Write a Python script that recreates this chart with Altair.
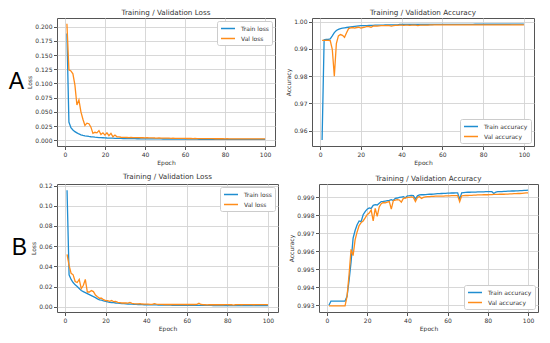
import altair as alt
import pandas as pd

EPOCHS = list(range(1, 101))

A_TRAIN_LOSS = [
    0.188, 0.032, 0.022, 0.018, 0.015, 0.013, 0.011, 0.0095, 0.0085, 0.0078,
    0.0072, 0.0066, 0.0061, 0.0057, 0.0053, 0.0050, 0.0047, 0.0045, 0.0043, 0.0041,
    0.0039, 0.0038, 0.0036, 0.0035, 0.0034, 0.0033, 0.0032, 0.0031, 0.0030, 0.0030,
    0.0029, 0.0028, 0.0028, 0.0027, 0.0027, 0.0026, 0.0026, 0.0025, 0.0025, 0.0024,
    0.0024, 0.0024, 0.0023, 0.0023, 0.0023, 0.0022, 0.0022, 0.0022, 0.0021, 0.0021,
    0.0021, 0.0021, 0.0020, 0.0020, 0.0020, 0.0020, 0.0019, 0.0019, 0.0019, 0.0019,
    0.0019, 0.0018, 0.0018, 0.0018, 0.0018, 0.0018, 0.0017, 0.0017, 0.0017, 0.0017,
    0.0017, 0.0017, 0.0016, 0.0016, 0.0016, 0.0016, 0.0016, 0.0016, 0.0016, 0.0015,
    0.0015, 0.0015, 0.0015, 0.0015, 0.0015, 0.0015, 0.0015, 0.0015, 0.0015, 0.0015,
    0.0015, 0.0015, 0.0014, 0.0014, 0.0014, 0.0014, 0.0014, 0.0014, 0.0014, 0.0014,
]
A_VAL_LOSS = [
    0.205, 0.124, 0.122, 0.117, 0.097, 0.062, 0.071, 0.050, 0.037, 0.026,
    0.030, 0.029, 0.023, 0.012, 0.014, 0.013, 0.017, 0.010, 0.013, 0.009,
    0.013, 0.008, 0.012, 0.006, 0.009, 0.006, 0.0058, 0.0052, 0.0050, 0.0049,
    0.0048, 0.0047, 0.0049, 0.0046, 0.0045, 0.0046, 0.0044, 0.0043, 0.0045, 0.0042,
    0.0044, 0.0041, 0.0040, 0.0042, 0.0039, 0.0038, 0.0040, 0.0037, 0.0036, 0.0037,
    0.0035, 0.0036, 0.0034, 0.0035, 0.0033, 0.0034, 0.0032, 0.0033, 0.0031, 0.0032,
    0.0030, 0.0031, 0.0030, 0.0029, 0.0030, 0.0029, 0.0028, 0.0029, 0.0028, 0.0028,
    0.0027, 0.0028, 0.0027, 0.0027, 0.0026, 0.0027, 0.0026, 0.0026, 0.0026, 0.0025,
    0.0026, 0.0025, 0.0025, 0.0025, 0.0025, 0.0024, 0.0025, 0.0024, 0.0024, 0.0024,
    0.0024, 0.0024, 0.0023, 0.0024, 0.0023, 0.0023, 0.0023, 0.0023, 0.0023, 0.0023,
]
A_TRAIN_ACC = [
    0.9565, 0.9934, 0.9935, 0.9935, 0.9937, 0.9948, 0.9960, 0.9968, 0.9972, 0.9975,
    0.9977, 0.9978, 0.9979, 0.9980, 0.9981, 0.9982, 0.9983, 0.9984, 0.9985, 0.9986,
    0.9986, 0.9986, 0.9986, 0.9987, 0.9987, 0.9987, 0.9988, 0.9988, 0.9988, 0.9988,
    0.9988, 0.9989, 0.9989, 0.9989, 0.9989, 0.9989, 0.9989, 0.9989, 0.9990, 0.9990,
    0.9990, 0.9990, 0.9990, 0.9990, 0.9990, 0.9990, 0.9990, 0.9990, 0.9990, 0.9990,
    0.9990, 0.9990, 0.9990, 0.9990, 0.9990, 0.99905, 0.99905, 0.99905, 0.99905, 0.99905,
    0.99905, 0.99905, 0.99905, 0.99905, 0.99905, 0.99905, 0.99905, 0.99905, 0.99905, 0.99905,
    0.99905, 0.99905, 0.99905, 0.99905, 0.99905, 0.9991, 0.9991, 0.9991, 0.9991, 0.9991,
    0.9991, 0.9991, 0.9991, 0.9991, 0.9991, 0.9991, 0.9991, 0.9991, 0.9991, 0.9991,
    0.9991, 0.9991, 0.9991, 0.99915, 0.99915, 0.99915, 0.99915, 0.99915, 0.99915, 0.99915,
]
A_VAL_ACC = [
    0.9932, 0.9932, 0.9932, 0.9932, 0.9931, 0.9899, 0.9800, 0.9920, 0.9948, 0.9953,
    0.9950, 0.9943, 0.9960, 0.9975, 0.9978, 0.9979, 0.9977, 0.9979, 0.9980, 0.9977,
    0.9979, 0.9980, 0.9983, 0.9982, 0.9980, 0.9984, 0.9985, 0.9984, 0.9985, 0.9986,
    0.9986, 0.9986, 0.9987, 0.9986, 0.9984, 0.9986, 0.9987, 0.9987, 0.9988, 0.9988,
    0.9987, 0.9988, 0.9988, 0.9987, 0.9988, 0.9988, 0.9988, 0.9986, 0.9988, 0.9988,
    0.9988, 0.9988, 0.9988, 0.99885, 0.99885, 0.99885, 0.99885, 0.99885, 0.99885, 0.99885,
    0.99885, 0.9989, 0.9989, 0.9989, 0.9989, 0.9989, 0.9989, 0.9989, 0.9989, 0.9989,
    0.9989, 0.9989, 0.9989, 0.9989, 0.9989, 0.9989, 0.9989, 0.9989, 0.9989, 0.9989,
    0.9989, 0.9989, 0.9989, 0.9989, 0.9989, 0.9989, 0.9989, 0.9989, 0.9989, 0.9989,
    0.9989, 0.9989, 0.9989, 0.9989, 0.9989, 0.9989, 0.9989, 0.9989, 0.9989, 0.9989,
]
B_TRAIN_LOSS = [
    0.1153, 0.0316, 0.0270, 0.0240, 0.0217, 0.0200, 0.0180, 0.0160, 0.0150, 0.0140,
    0.0130, 0.0120, 0.0110, 0.0100, 0.0090, 0.0078, 0.0068, 0.0066, 0.0058, 0.0052,
    0.0048, 0.0044, 0.0042, 0.0040, 0.0037, 0.0035, 0.0033, 0.0031, 0.0030, 0.0028,
    0.0027, 0.0026, 0.0025, 0.0024, 0.0023, 0.0022, 0.0022, 0.0021, 0.0020, 0.0020,
    0.0019, 0.0019, 0.0018, 0.0018, 0.0018, 0.0017, 0.0017, 0.0017, 0.0016, 0.0016,
    0.0016, 0.0016, 0.0015, 0.0015, 0.0015, 0.0015, 0.0015, 0.0014, 0.0014, 0.0014,
    0.0014, 0.0014, 0.0014, 0.0013, 0.0013, 0.0013, 0.0013, 0.0013, 0.0013, 0.0013,
    0.0013, 0.0013, 0.0012, 0.0012, 0.0012, 0.0012, 0.0012, 0.0012, 0.0012, 0.0012,
    0.0012, 0.0012, 0.0012, 0.0012, 0.0012, 0.0011, 0.0011, 0.0011, 0.0011, 0.0011,
    0.0011, 0.0011, 0.0011, 0.0011, 0.0011, 0.0011, 0.0011, 0.0011, 0.0011, 0.0011,
]
B_VAL_LOSS = [
    0.0518, 0.0410, 0.0330, 0.0316, 0.0250, 0.0240, 0.0270, 0.0180, 0.0210, 0.0270,
    0.0146, 0.0146, 0.0160, 0.0150, 0.0115, 0.0099, 0.0084, 0.0084, 0.0070, 0.0060,
    0.0060, 0.0053, 0.0062, 0.0050, 0.0052, 0.0043, 0.0040, 0.0037, 0.0037, 0.0037,
    0.0036, 0.0043, 0.0034, 0.0030, 0.0028, 0.0028, 0.0031, 0.0027, 0.0026, 0.0025,
    0.0025, 0.0024, 0.0024, 0.0031, 0.0025, 0.0024, 0.0023, 0.0023, 0.0022, 0.0022,
    0.0022, 0.0022, 0.0022, 0.0022, 0.0022, 0.0022, 0.0022, 0.0022, 0.0022, 0.0022,
    0.0022, 0.0022, 0.0022, 0.0022, 0.0023, 0.0034, 0.0022, 0.0021, 0.0020, 0.0019,
    0.0020, 0.0020, 0.0020, 0.0021, 0.0020, 0.0020, 0.0021, 0.0020, 0.0021, 0.0021,
    0.0020, 0.0020, 0.0016, 0.0020, 0.0021, 0.0021, 0.0020, 0.0021, 0.0021, 0.0021,
    0.0021, 0.0021, 0.0020, 0.0021, 0.0021, 0.0021, 0.0021, 0.0021, 0.0021, 0.0021,
]
B_TRAIN_ACC = [
    0.99300, 0.99323, 0.99323, 0.99323, 0.99323, 0.99323, 0.99323, 0.99323, 0.99323, 0.99349,
    0.99436, 0.99541, 0.99673, 0.99716, 0.99748, 0.99769, 0.99765, 0.99804, 0.99821, 0.99835,
    0.99842, 0.99839, 0.99856, 0.99860, 0.99858, 0.99868, 0.99877, 0.99878, 0.99880, 0.99882,
    0.99884, 0.99888, 0.99883, 0.99895, 0.99897, 0.99900, 0.99902, 0.99904, 0.99898, 0.99909,
    0.99910, 0.99912, 0.99910, 0.99891, 0.99909, 0.99914, 0.99915, 0.99915, 0.99916, 0.99917,
    0.99918, 0.99918, 0.99919, 0.99920, 0.99921, 0.99921, 0.99922, 0.99923, 0.99923, 0.99924,
    0.99924, 0.99925, 0.99925, 0.99926, 0.99926, 0.99891, 0.99926, 0.99927, 0.99928, 0.99929,
    0.99929, 0.99930, 0.99930, 0.99930, 0.99931, 0.99931, 0.99931, 0.99931, 0.99932, 0.99932,
    0.99932, 0.99932, 0.99922, 0.99930, 0.99932, 0.99933, 0.99933, 0.99934, 0.99934, 0.99935,
    0.99935, 0.99936, 0.99936, 0.99937, 0.99937, 0.99938, 0.99938, 0.99939, 0.99940, 0.99941,
]
B_VAL_ACC = [
    0.99296, 0.99296, 0.99296, 0.99296, 0.99296, 0.99296, 0.99296, 0.99296, 0.99296, 0.99349,
    0.99471, 0.99611, 0.99576, 0.99664, 0.99708, 0.99743, 0.99760, 0.99769, 0.99786, 0.99804,
    0.99813, 0.99830, 0.99769, 0.99839, 0.99795, 0.99847, 0.99865, 0.99872, 0.99870, 0.99874,
    0.99877, 0.99835, 0.99882, 0.99885, 0.99888, 0.99886, 0.99874, 0.99895, 0.99897, 0.99900,
    0.99901, 0.99903, 0.99900, 0.99877, 0.99900, 0.99905, 0.99895, 0.99900, 0.99903, 0.99905,
    0.99905, 0.99906, 0.99906, 0.99907, 0.99907, 0.99908, 0.99908, 0.99908, 0.99909, 0.99909,
    0.99909, 0.99910, 0.99910, 0.99910, 0.99910, 0.99876, 0.99909, 0.99910, 0.99911, 0.99911,
    0.99912, 0.99912, 0.99913, 0.99913, 0.99914, 0.99914, 0.99914, 0.99915, 0.99915, 0.99915,
    0.99916, 0.99916, 0.99917, 0.99917, 0.99917, 0.99918, 0.99918, 0.99918, 0.99919, 0.99919,
    0.99920, 0.99920, 0.99921, 0.99921, 0.99922, 0.99922, 0.99923, 0.99924, 0.99925, 0.99926,
]

X_TICKS = [0, 20, 40, 60, 80, 100]
A_LOSS_TICKS = [0.0, 0.025, 0.05, 0.075, 0.1, 0.125, 0.15, 0.175, 0.2]
A_ACC_TICKS = [0.96, 0.97, 0.98, 0.99, 1.0]
B_LOSS_TICKS = [0.0, 0.02, 0.04, 0.06, 0.08, 0.10, 0.12]
B_ACC_TICKS = [0.993, 0.994, 0.995, 0.996, 0.997, 0.998, 0.999]

LOSS_NAMES = ["Train loss", "Val loss"]
ACC_NAMES = ["Train accuracy", "Val accuracy"]

BLUE = "#1f8dd0"
ORANGE = "#ff8c1a"
TXT = "#333333"
H = 128


def panel(train, val, names, title, ytitle, ydomain, yticks, yfmt, legend_orient,
          width, letter=None, letter_dx=-33):
    df = pd.DataFrame({
        "Epoch": EPOCHS + EPOCHS,
        "value": train + val,
        "series": [names[0]] * len(train) + [names[1]] * len(val),
    })
    lines = alt.Chart(df).mark_line(strokeWidth=1.3).encode(
        x=alt.X("Epoch:Q",
                scale=alt.Scale(domain=[-3.95, 104.95], nice=False, zero=False),
                axis=alt.Axis(values=X_TICKS, format="d", title="Epoch")),
        y=alt.Y("value:Q",
                scale=alt.Scale(domain=ydomain, nice=False, zero=False),
                axis=alt.Axis(values=yticks, format=yfmt, title=ytitle)),
        color=alt.Color("series:N",
                        scale=alt.Scale(domain=names, range=[BLUE, ORANGE]),
                        legend=alt.Legend(
                            title=None, orient=legend_orient, offset=3, padding=3,
                            strokeColor="#cccccc", fillColor="white", cornerRadius=2,
                            labelFontSize=6, labelColor=TXT, labelFont="DejaVu Sans",
                            symbolType="M-1,0H3", symbolSize=49, symbolStrokeWidth=1.5,
                            labelOffset=12, rowPadding=2)),
    )
    layers = [lines]
    if letter is not None:
        lab = alt.Chart(pd.DataFrame({"t": [letter]})).mark_text(
            align="right", baseline="middle", fontSize=23, font="Liberation Sans",
            color="black",
        ).encode(text="t:N", x=alt.value(letter_dx), y=alt.value(H / 2))
        layers.append(lab)
    return alt.layer(*layers).properties(
        width=width, height=H,
        title=alt.Title(title, fontSize=7.2, fontWeight="normal", color=TXT, offset=2,
                        frame="group", font="DejaVu Sans"))


a_loss = panel(A_TRAIN_LOSS, A_VAL_LOSS, LOSS_NAMES, "Training / Validation Loss", "Loss",
               [-0.0102, 0.2152], A_LOSS_TICKS, ".3f", "top-right", 218, "A", -33)
a_acc = panel(A_TRAIN_ACC, A_VAL_ACC, ACC_NAMES, "Training / Validation Accuracy", "Accuracy",
              [0.9543, 1.0014], A_ACC_TICKS, ".2f", "bottom-right", 222)
b_loss = panel(B_TRAIN_LOSS, B_VAL_LOSS, LOSS_NAMES, "Training / Validation Loss", "Loss",
               [-0.0052, 0.1215], B_LOSS_TICKS, ".2f", "top-right", 221, "B", -30)
b_acc = panel(B_TRAIN_ACC, B_VAL_ACC, ACC_NAMES, "Training / Validation Accuracy", "Accuracy",
              [0.99262, 0.99975], B_ACC_TICKS, ".3f", "bottom-right", 219)


def row(left, right):
    return alt.hconcat(left, right, spacing=9).resolve_scale(
        color="independent").resolve_legend(color="independent")


chart = alt.vconcat(row(a_loss, a_acc), row(b_loss, b_acc), spacing=6).resolve_scale(
    color="independent").resolve_legend(color="independent").properties(
    padding=0).configure_view(stroke="#555555", strokeWidth=1).configure_axis(
    labelFontSize=6, titleFontSize=6, titleFontWeight="normal", labelColor=TXT,
    titleColor=TXT, labelFont="DejaVu Sans", titleFont="DejaVu Sans",
    tickColor="#555555", tickSize=3.5, domain=False, gridColor="#d4d4d4",
    gridWidth=0.9, labelPadding=1.5, titlePadding=2)

chart.save("out.html", embed_options={"renderer": "svg", "actions": False})
